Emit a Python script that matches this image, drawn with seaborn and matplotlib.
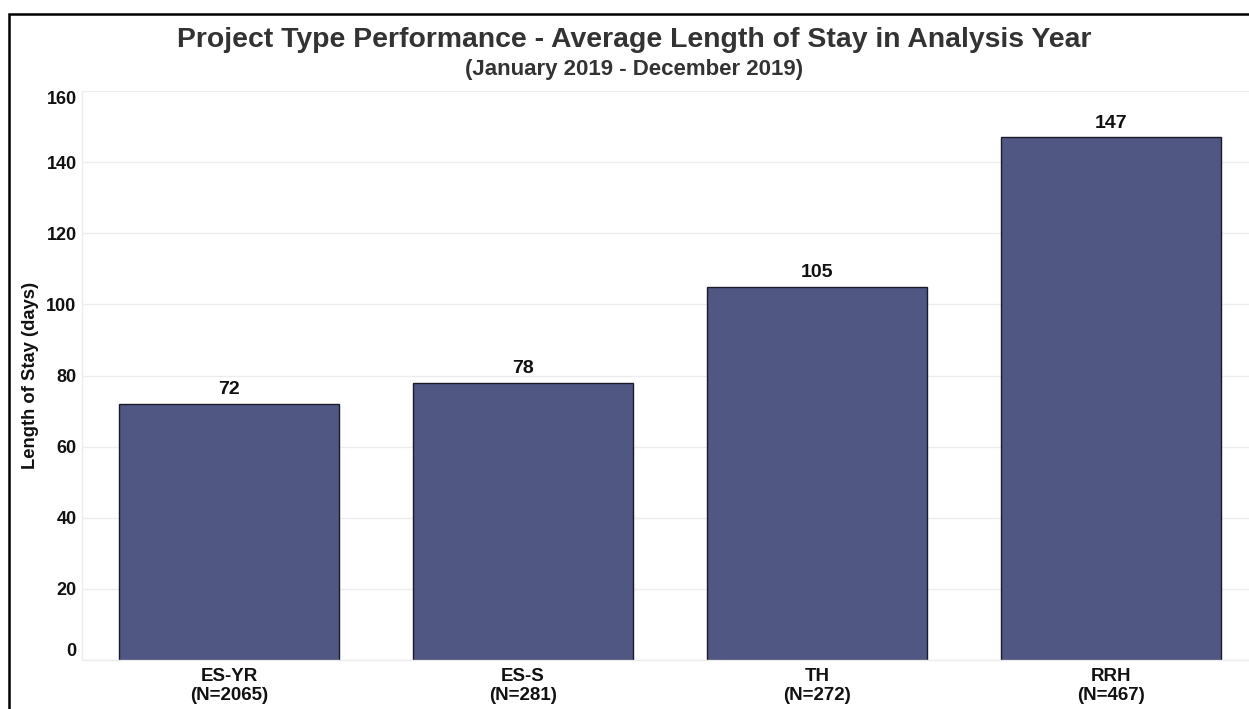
import matplotlib
matplotlib.use("Agg")
import matplotlib.pyplot as plt
from matplotlib.patches import Rectangle
import seaborn as sns
import pandas as pd

# Average length of stay per project type
project_types = ["ES-YR", "ES-S", "TH", "RRH"]
client_counts = [2065, 281, 272, 467]
avg_stay_days = [72, 78, 105, 147]
y_ticks = [0, 20, 40, 60, 80, 100, 120, 140, 160]

sns.set_theme(style="white")
plt.rcParams["font.family"] = ["Liberation Sans", "DejaVu Sans"]

df = pd.DataFrame({
    "label": [f"{t}\n(N={n})" for t, n in zip(project_types, client_counts)],
    "days": avg_stay_days,
})

fig = plt.figure(figsize=(12.49, 7.09), dpi=100)
ax = fig.add_axes([0.0657, 0.0691, 0.9343, 0.8025])

bar_color = "#4f5782"
sns.barplot(data=df, x="label", y="days", color=bar_color, width=0.748,
            edgecolor="#1a1a2a", linewidth=1.0, saturation=1, ax=ax)

for i, v in enumerate(avg_stay_days):
    ax.text(i, v + 1.6, f"{v}", ha="center", va="bottom",
            fontsize=14, fontweight="bold", color="#111111")

ax.set_xlim(-0.5, 3.47)
ax.set_ylim(0, 160)
ax.set_yticks(y_ticks)
ax.set_yticklabels([str(t) for t in y_ticks], fontsize=13, fontweight="bold",
                   color="#111111")
labels = ax.get_yticklabels()
labels[0].set_va("bottom")
labels[-1].set_va("top")
ax.tick_params(axis="y", length=0, pad=4)
ax.tick_params(axis="x", length=0, pad=6)
for lab in ax.get_xticklabels():
    lab.set_fontsize(13.5)
    lab.set_fontweight("bold")
    lab.set_color("#111111")
    lab.set_linespacing(1.15)

ax.set_xticks([0.5, 1.5, 2.5], minor=True)
ax.tick_params(axis="x", which="minor", length=5, color="#e6e6e6", width=1,
               direction="out")

ax.grid(axis="y", color="#ededed", linewidth=1)
ax.set_axisbelow(True)
for side in ["top", "right"]:
    ax.spines[side].set_visible(False)
for side in ["left", "bottom"]:
    ax.spines[side].set_color("#ececec")
    ax.spines[side].set_linewidth(1)

ax.set_xlabel("")
ax.set_ylabel("Length of Stay (days)", fontsize=13.2, fontweight="bold",
              color="#111111", labelpad=5)

fig.text(0.5076, 0.934, "Project Type Performance - Average Length of Stay in Analysis Year",
         ha="center", va="baseline", fontsize=20.4, fontweight="bold", color="#333333")
fig.text(0.5076, 0.894, "(January 2019 - December 2019)",
         ha="center", va="baseline", fontsize=16, fontweight="bold", color="#333333")

# Outer frame (left and top edges visible)
fig.add_artist(Rectangle((9 / 1249, -0.2), 1.5, (709 - 14) / 709 + 0.2,
                         transform=fig.transFigure, fill=False,
                         edgecolor="black", linewidth=1.8, clip_on=False))

fig.savefig("out.png", dpi=100)
